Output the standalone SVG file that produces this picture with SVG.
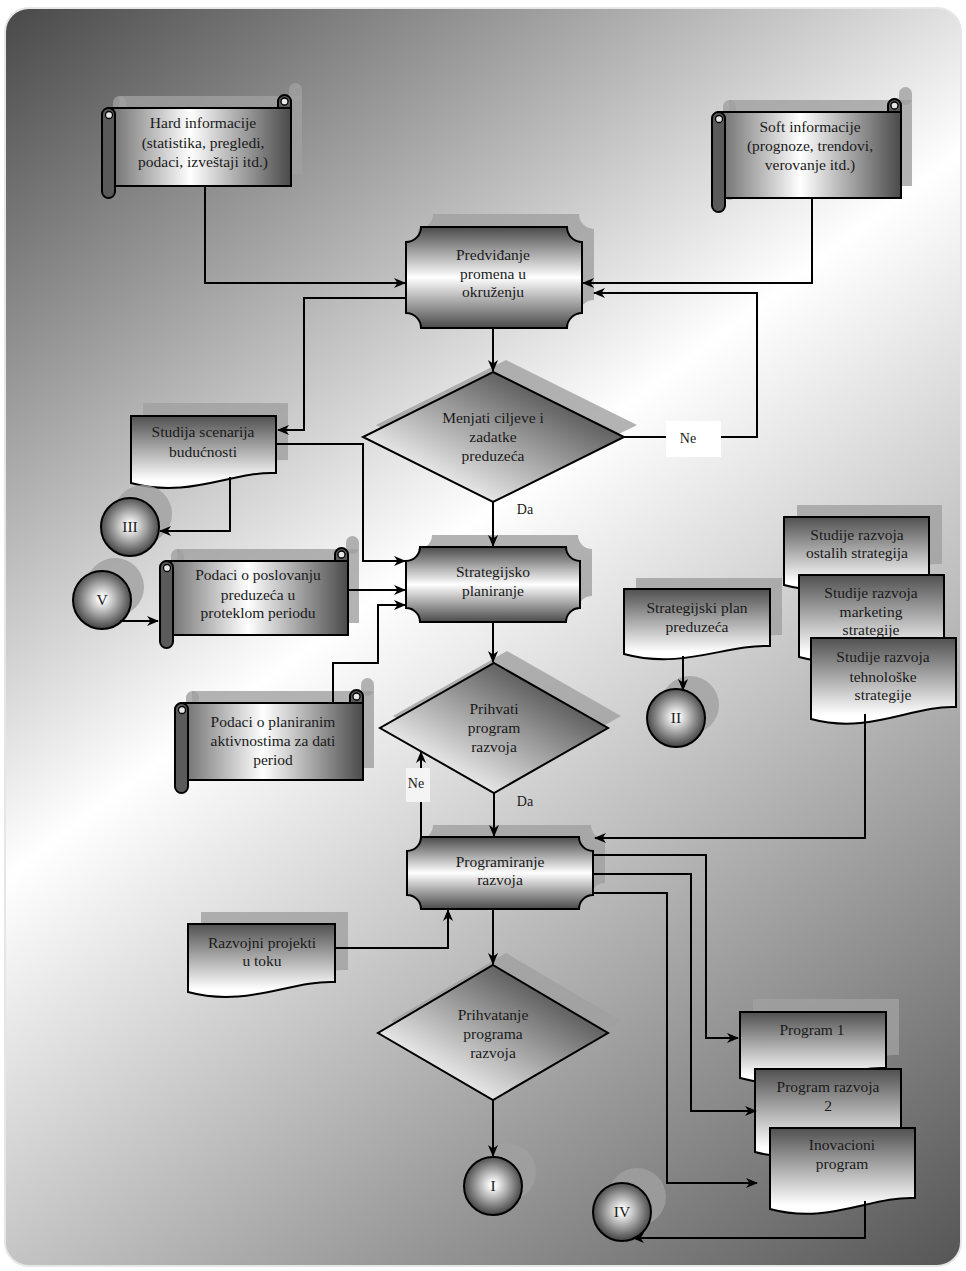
<svg xmlns="http://www.w3.org/2000/svg" width="966" height="1271" viewBox="0 0 966 1271">
<style>
.sh{fill:#a0a0a0;fill-opacity:.8}
.ln{fill:none;stroke:#000;stroke-width:2;marker-end:url(#ah)}
.ol{stroke:#000;stroke-width:2}
.roll{fill:#5a5a5a;stroke:#000;stroke-width:2}
.curl{fill:#e6e6e6;stroke:#000;stroke-width:1.3}
.scroll{fill:url(#gScroll)}
.proc{fill:url(#gProc)}
.dia{fill:url(#gDia)}
.doc{fill:url(#gDoc)}
.circ{fill:url(#gCirc)}
text{font-family:"Liberation Serif","Times New Roman",serif;font-size:15.5px;fill:#1a1a1a;text-anchor:middle}
.lbl{font-size:14px}
</style>
<defs>
<linearGradient id="gBg" gradientUnits="userSpaceOnUse" x1="0" y1="0" x2="966" y2="1271">
<stop offset="0" stop-color="#464646"/><stop offset="0.44" stop-color="#ffffff"/><stop offset="1" stop-color="#545454"/>
</linearGradient>
<linearGradient id="gScroll" x1="0" y1="0" x2="1" y2="0">
<stop offset="0" stop-color="#6a6a6a"/><stop offset="0.45" stop-color="#ffffff"/><stop offset="1" stop-color="#4a4a4a"/>
</linearGradient>
<linearGradient id="gProc" x1="0" y1="0" x2="0" y2="1">
<stop offset="0" stop-color="#4a4a4a"/><stop offset="0.5" stop-color="#ffffff"/><stop offset="1" stop-color="#4a4a4a"/>
</linearGradient>
<linearGradient id="gDia" x1="1" y1="0" x2="0" y2="1">
<stop offset="0.1" stop-color="#3a3a3a"/><stop offset="0.85" stop-color="#ffffff"/>
</linearGradient>
<linearGradient id="gDoc" x1="0" y1="0" x2="0" y2="1">
<stop offset="0" stop-color="#505050"/><stop offset="0.9" stop-color="#ffffff"/>
</linearGradient>
<radialGradient id="gCirc" cx="0.5" cy="0.48" r="0.5">
<stop offset="0" stop-color="#ffffff"/><stop offset="0.15" stop-color="#f2f2f2"/><stop offset="1" stop-color="#4a4a4a"/>
</radialGradient>
<marker id="ah" viewBox="0 0 12 12" refX="11" refY="6" markerWidth="12" markerHeight="12" markerUnits="userSpaceOnUse" orient="auto">
<path d="M0,1 L12,6 L0,11 L3.5,6 Z" fill="#000"/>
</marker>
</defs>

<rect x="0" y="0" width="966" height="1271" fill="#ffffff"/>
<rect id="frame" x="5" y="8" width="956" height="1258" rx="24" fill="url(#gBg)" stroke="#e6e6e6" stroke-width="2"/>

<g id="hard">
<g class="sh" transform="translate(11,-12)"><rect x="108" y="108" width="183" height="78"/><rect x="278" y="95" width="13" height="18" rx="6.5"/><rect x="102" y="108" width="13" height="90" rx="6.5"/></g>
<rect class="roll" x="278" y="95" width="13" height="18" rx="6.5"/>
<circle class="curl" cx="284.5" cy="101.5" r="3.5"/>
<rect class="scroll ol" x="108" y="108" width="183" height="78"/>
<rect class="roll" x="102" y="108" width="13" height="90" rx="6.5"/>
<circle class="curl" cx="109" cy="115" r="3.5"/>
<text x="203" y="128">Hard informacije</text>
<text x="203" y="148">(statistika, pregledi,</text>
<text x="203" y="167">podaci, izveštaji itd.)</text>
</g>

<g id="soft">
<g class="sh" transform="translate(11,-12)"><rect x="718" y="112" width="183" height="86"/><rect x="888" y="99" width="13" height="18" rx="6.5"/><rect x="712" y="112" width="13" height="100" rx="6.5"/></g>
<rect class="roll" x="888" y="99" width="13" height="18" rx="6.5"/>
<circle class="curl" cx="894.5" cy="105.5" r="3.5"/>
<rect class="scroll ol" x="718" y="112" width="183" height="86"/>
<rect class="roll" x="712" y="112" width="13" height="100" rx="6.5"/>
<circle class="curl" cx="719" cy="119" r="3.5"/>
<text x="810" y="132">Soft informacije</text>
<text x="810" y="151">(prognoze, trendovi,</text>
<text x="810" y="170">verovanje itd.)</text>
</g>

<g id="predvidjanje">
<path class="sh" transform="translate(12,-13)" d="M421,227 H567 A15,15 0 0 0 582,242 V313 A15,15 0 0 0 567,328 H421 A15,15 0 0 0 406,313 V242 A15,15 0 0 0 421,227 Z"/>
<path class="proc ol" d="M421,227 H567 A15,15 0 0 0 582,242 V313 A15,15 0 0 0 567,328 H421 A15,15 0 0 0 406,313 V242 A15,15 0 0 0 421,227 Z"/>
<text x="493" y="260">Predviđanje</text>
<text x="493" y="279">promena u</text>
<text x="493" y="297">okruženju</text>
</g>

<g id="menjati">
<polygon class="sh" transform="translate(13,-12)" points="493,372 624,437 493,502 363,437"/>
<polygon class="dia ol" points="493,372 624,437 493,502 363,437"/>
<text x="493" y="423">Menjati ciljeve i</text>
<text x="493" y="442">zadatke</text>
<text x="493" y="461">preduzeća</text>
</g>

<g id="studija">
<path class="sh" transform="translate(12,-13)" d="M131,416 H276 V473 C232.5,471 189,499 131,483 Z"/>
<path class="doc ol" d="M131,416 H276 V473 C232.5,471 189,499 131,483 Z"/>
<text x="203" y="437">Studija scenarija</text>
<text x="203" y="457">budućnosti</text>
</g>

<g id="c3">
<circle class="sh" cx="143" cy="514" r="29"/>
<circle class="circ ol" cx="130" cy="527" r="29"/>
<text x="130" y="532">III</text>
</g>

<g id="c5">
<circle class="sh" cx="115" cy="587" r="29"/>
<circle class="circ ol" cx="102" cy="600" r="29"/>
<text x="102" y="605">V</text>
</g>

<g id="poslovanje">
<g class="sh" transform="translate(11,-12)"><rect x="166" y="561" width="182" height="74"/><rect x="335" y="548" width="13" height="18" rx="6.5"/><rect x="160" y="561" width="13" height="87" rx="6.5"/></g>
<rect class="roll" x="335" y="548" width="13" height="18" rx="6.5"/>
<circle class="curl" cx="341.5" cy="554.5" r="3.5"/>
<rect class="scroll ol" x="166" y="561" width="182" height="74"/>
<rect class="roll" x="160" y="561" width="13" height="87" rx="6.5"/>
<circle class="curl" cx="167" cy="568" r="3.5"/>
<text x="258" y="580">Podaci o poslovanju</text>
<text x="258" y="600">preduzeća u</text>
<text x="258" y="618">proteklom periodu</text>
</g>

<g id="strategijsko">
<path class="sh" transform="translate(12,-12)" d="M420,547 H566 A14,14 0 0 0 580,561 V608 A14,14 0 0 0 566,622 H420 A14,14 0 0 0 406,608 V561 A14,14 0 0 0 420,547 Z"/>
<path class="proc ol" d="M420,547 H566 A14,14 0 0 0 580,561 V608 A14,14 0 0 0 566,622 H420 A14,14 0 0 0 406,608 V561 A14,14 0 0 0 420,547 Z"/>
<text x="493" y="577">Strategijsko</text>
<text x="493" y="596">planiranje</text>
</g>

<g id="planirane">
<g class="sh" transform="translate(11,-12)"><rect x="181" y="703" width="182" height="77"/><rect x="350" y="690" width="13" height="18" rx="6.5"/><rect x="175" y="703" width="13" height="90" rx="6.5"/></g>
<rect class="roll" x="350" y="690" width="13" height="18" rx="6.5"/>
<circle class="curl" cx="356.5" cy="696.5" r="3.5"/>
<rect class="scroll ol" x="181" y="703" width="182" height="77"/>
<rect class="roll" x="175" y="703" width="13" height="90" rx="6.5"/>
<circle class="curl" cx="182" cy="710" r="3.5"/>
<text x="273" y="727">Podaci o planiranim</text>
<text x="273" y="746">aktivnostima za dati</text>
<text x="273" y="765">period</text>
</g>

<g id="prihvati">
<polygon class="sh" transform="translate(13,-12)" points="494,663 608,728 494,793 380,728"/>
<polygon class="dia ol" points="494,663 608,728 494,793 380,728"/>
<text x="494" y="714">Prihvati</text>
<text x="494" y="733">program</text>
<text x="494" y="752">razvoja</text>
</g>

<g id="stratplan">
<path class="sh" transform="translate(12,-11)" d="M624,589 H770 V646 C726.2,644 682.4,670 624,654 Z"/>
<path class="doc ol" d="M624,589 H770 V646 C726.2,644 682.4,670 624,654 Z"/>
<text x="697" y="613">Strategijski plan</text>
<text x="697" y="632">preduzeća</text>
</g>

<g id="c2">
<circle class="sh" cx="690" cy="705" r="29"/>
<circle class="circ ol" cx="676" cy="718" r="29"/>
<text x="676" y="723">II</text>
</g>

<g id="ostalih">
<path class="sh" transform="translate(13,-12)" d="M784,517 H929 V576 C885.5,574 842,601 784,585 Z"/>
<path class="doc ol" d="M784,517 H929 V576 C885.5,574 842,601 784,585 Z"/>
<text x="857" y="540">Studije razvoja</text>
<text x="857" y="558">ostalih strategija</text>
</g>

<g id="marketing">
<path class="doc ol" d="M799,575 H944 V647 C900.5,645 857,673 799,657 Z"/>
<text x="871" y="598">Studije razvoja</text>
<text x="871" y="617">marketing</text>
<text x="871" y="635">strategije</text>
</g>

<g id="tehnoloske">
<path class="doc ol" d="M811,638 H956 V707 C912.5,705 869,735 811,719 Z"/>
<text x="883" y="662">Studije razvoja</text>
<text x="883" y="682">tehnološke</text>
<text x="883" y="700">strategije</text>
</g>

<g id="programiranje">
<path class="sh" transform="translate(12,-12)" d="M421,837 H579 A14,14 0 0 0 593,851 V895 A14,14 0 0 0 579,909 H421 A14,14 0 0 0 407,895 V851 A14,14 0 0 0 421,837 Z"/>
<path class="proc ol" d="M421,837 H579 A14,14 0 0 0 593,851 V895 A14,14 0 0 0 579,909 H421 A14,14 0 0 0 407,895 V851 A14,14 0 0 0 421,837 Z"/>
<text x="500" y="867">Programiranje</text>
<text x="500" y="885">razvoja</text>
</g>

<g id="razvojni">
<path class="sh" transform="translate(13,-12)" d="M188,924 H335 V982 C290.9,980 246.8,1008 188,992 Z"/>
<path class="doc ol" d="M188,924 H335 V982 C290.9,980 246.8,1008 188,992 Z"/>
<text x="262" y="948">Razvojni projekti</text>
<text x="262" y="966">u toku</text>
</g>

<g id="prihvatanje">
<polygon class="sh" transform="translate(13,-12)" points="493,965 608,1033 493,1100 378,1033"/>
<polygon class="dia ol" points="493,965 608,1033 493,1100 378,1033"/>
<text x="493" y="1020">Prihvatanje</text>
<text x="493" y="1039">programa</text>
<text x="493" y="1058">razvoja</text>
</g>

<g id="c1">
<circle class="sh" cx="507" cy="1172" r="29"/>
<circle class="circ ol" cx="493" cy="1186" r="29"/>
<text x="493" y="1191">I</text>
</g>

<g id="c4">
<circle class="sh" cx="637" cy="1197" r="29"/>
<circle class="circ ol" cx="622" cy="1212" r="29"/>
<text x="622" y="1217">IV</text>
</g>

<g id="program1">
<path class="sh" transform="translate(13,-13)" d="M740,1012 H886 V1068 C842.2,1066 798.4,1094 740,1078 Z"/>
<path class="doc ol" d="M740,1012 H886 V1068 C842.2,1066 798.4,1094 740,1078 Z"/>
<text x="812" y="1035">Program 1</text>
</g>

<g id="program2">
<path class="doc ol" d="M755,1069 H901 V1142 C857.2,1140 813.4,1168 755,1152 Z"/>
<text x="828" y="1092">Program razvoja</text>
<text x="828" y="1111">2</text>
</g>

<g id="inovacioni">
<path class="doc ol" d="M770,1128 H915 V1198 C871.5,1196 828,1225 770,1209 Z"/>
<text x="842" y="1150">Inovacioni</text>
<text x="842" y="1169">program</text>
</g>

<g id="connectors">
<path class="ln" d="M205,186 V283 H405"/>
<path class="ln" d="M812,198 V283 H583"/>
<path class="ln" d="M406,298 H304 V430 H278"/>
<path class="ln" d="M493,328 V371"/>
<path class="ln" d="M624,437 H757 V293 H594"/>
<path class="ln" d="M493,502 V546"/>
<path class="ln" d="M276,444 H363 V561 H405"/>
<path class="ln" d="M230,477 V531 H160"/>
<path class="ln" d="M120,621 H158"/>
<path class="ln" d="M348,590 H405"/>
<path class="ln" d="M333,704 V663 H378 V605 H405"/>
<path class="ln" d="M493,622 V662"/>
<path class="ln" d="M421,837 V752"/>
<path class="ln" d="M494,793 V836"/>
<path class="ln" d="M683,656 V690"/>
<path class="ln" d="M865,714 V838 H595"/>
<path class="ln" d="M593,855 H706 V1038 H738"/>
<path class="ln" d="M593,874 H691 V1111 H756"/>
<path class="ln" d="M593,893 H667 V1183 H757"/>
<path class="ln" d="M865,1201 V1238 H633"/>
<path class="ln" d="M335,948 H448 V910"/>
<path class="ln" d="M493,909 V964"/>
<path class="ln" d="M493,1100 V1156"/>
<rect x="666" y="421" width="55" height="36" fill="#ffffff"/>
<text class="lbl" x="688" y="443">Ne</text>
<rect x="406" y="768" width="24" height="34" fill="#f4f4f4"/>
<text class="lbl" x="416" y="788">Ne</text>
<text class="lbl" x="525" y="514">Da</text>
<text class="lbl" x="525" y="806">Da</text>
</g>
</svg>
